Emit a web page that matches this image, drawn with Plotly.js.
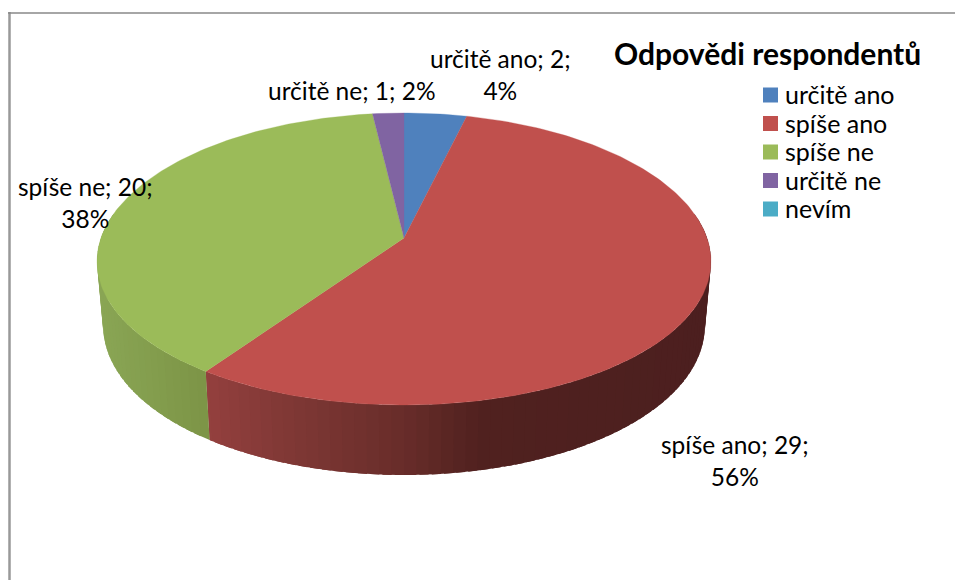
<!DOCTYPE html>
<html><head><meta charset="utf-8">
<script src="https://cdn.plot.ly/plotly-3.0.1.min.js"></script>
<style>html,body{margin:0;padding:0;background:#fff}#c{width:955px;height:580px}</style></head>
<body><div id="c"></div>
<script>
const categories = ["určitě ano","spíše ano","spíše ne","určitě ne","nevím"];
const values = [2,29,20,1,0];
const percents = [4,56,38,2,0];
const colors = ["#4f81bd","#c0504d","#9bbb59","#8064a2","#4bacc6"];
const titleText = "Odpovědi respondentů";

const FONT = "Lato, Carlito, Calibri, sans-serif";
const total = values.reduce((a,b)=>a+b,0);
// perspective projection of the pie's top and bottom rims
const CX = 404;
const topRim = {cy:238, R:303, B:143, kx:0.16, ky:0.1438};
const botRim = {cy:300.6, R:297.1, B:150, kx:0.16, ky:0.14};
function proj(rim, deg){
  const t = deg*Math.PI/180, c = Math.cos(t);
  return [CX+rim.R*Math.sin(t)/(1+rim.kx*c), rim.cy-rim.B*c/(1+rim.ky*c)];
}
function mix(stops, x){
  if(x<=stops[0][0]) return stops[0][1];
  for(let i=1;i<stops.length;i++){
    if(x<=stops[i][0]){
      const a=stops[i-1],b=stops[i],f=(x-a[0])/(b[0]-a[0]);
      return a[1].map((v,j)=>v+(b[1][j]-v)*f);
    }
  }
  return stops[stops.length-1][1];
}
const shade = {
  1:[[206,[148,64,62]],[300,[125,55,52]],[400,[105,45,42]],[480,[80,33,31]],[710,[76,31,31]]],
  2:[[97,[138,166,85]],[210,[124,148,70]]],
  0:[[400,[60,95,140]],[470,[60,95,140]]],
  3:[[370,[95,75,120]],[405,[95,75,120]]]
};
const traces = [];
let cum = 0;
const slices = values.map(v=>{const s={from:cum/total*360,to:(cum+v)/total*360};cum+=v;return s;});
// side wall: narrow overlapping strips, shaded along x
const STEP = 2, OVER = 1.5;
slices.forEach((s,i)=>{
  if(values[i]===0) return;
  const a0=Math.max(s.from,80), a1=Math.min(s.to,280);
  for(let a=a0;a<a1;a+=STEP){
    const b=Math.min(a+STEP+OVER,a1), m=Math.min(a+STEP,a1);
    const p=[proj(topRim,a),proj(topRim,m),proj(topRim,b),proj(botRim,b),proj(botRim,m),proj(botRim,a)];
    const mx=(p[0][0]+p[1][0]+p[4][0]+p[5][0])/4;
    const c=mix(shade[i],mx).map(Math.round);
    const col=`rgb(${c[0]},${c[1]},${c[2]})`;
    traces.push({type:"scatter",mode:"lines",x:p.map(q=>q[0]).concat(p[0][0]),y:p.map(q=>q[1]).concat(p[0][1]),
      fill:"toself",fillcolor:col,line:{color:col,width:0},showlegend:false,hoverinfo:"skip"});
  }
});
// top face
slices.forEach((s,i)=>{
  if(values[i]===0) return;
  const xs=[CX],ys=[topRim.cy];
  const n=Math.max(2,Math.ceil((s.to-s.from)));
  for(let j=0;j<=n;j++){
    const q=proj(topRim,s.from+(s.to-s.from)*j/n);
    xs.push(q[0]);ys.push(q[1]);
  }
  xs.push(CX);ys.push(topRim.cy);
  traces.push({type:"scatter",mode:"lines",x:xs,y:ys,fill:"toself",fillcolor:colors[i],
    line:{color:colors[i],width:0.3},showlegend:false,hoverinfo:"skip",name:categories[i]});
});
// legend column
traces.push({type:"scatter",mode:"markers",
  x:categories.map(()=>770.5),y:categories.map((c,i)=>95+28.5*i),
  marker:{symbol:"square",size:15,color:colors,line:{width:0}},showlegend:false,hoverinfo:"skip",cliponaxis:false});
const lab = i=>`${categories[i]}; ${values[i]};`;
const annotations = [
 {x:500,y:74.5,text:lab(0)+"<br>"+percents[0]+"%"},
 {x:351.5,y:90.5,text:lab(3)+" "+percents[3]+"%"},
 {x:85,y:202,text:lab(2)+"<br>"+percents[2]+"%"},
 {x:735,y:460,text:lab(1)+"<br>"+percents[1]+"%"},
 {x:767.5,y:53,text:"<b>"+titleText+"</b>",fs:30}
].map(a=>({x:a.x,y:a.y,xref:"x",yref:"y",text:a.text,showarrow:false,xanchor:"center",yanchor:"middle",
  align:"center",font:{family:FONT,size:a.fs||24.5,color:"#000"}}));
categories.forEach((c,i)=>annotations.push({x:785,y:94+28.5*i,xref:"x",yref:"y",text:c,showarrow:false,
  xanchor:"left",yanchor:"middle",borderpad:0,xshift:-1,font:{family:FONT,size:25,color:"#000"}}));
const layout = {
  width:955,height:580,margin:{l:0,r:0,t:0,b:0},paper_bgcolor:"#fff",plot_bgcolor:"#fff",
  xaxis:{range:[0,955],visible:false,fixedrange:true},
  yaxis:{range:[580,0],visible:false,fixedrange:true},
  showlegend:false,
  annotations,
  shapes:[
    {type:"line",xref:"x",yref:"y",x0:9.5,x1:9.5,y0:12,y1:580,line:{color:"#999",width:2.5}},
    {type:"line",xref:"x",yref:"y",x0:8,x1:955,y0:13,y1:13,line:{color:"#888",width:1.5}}
  ]
};
Plotly.newPlot("c",traces,layout,{displayModeBar:false,staticPlot:true});
</script></body></html>
